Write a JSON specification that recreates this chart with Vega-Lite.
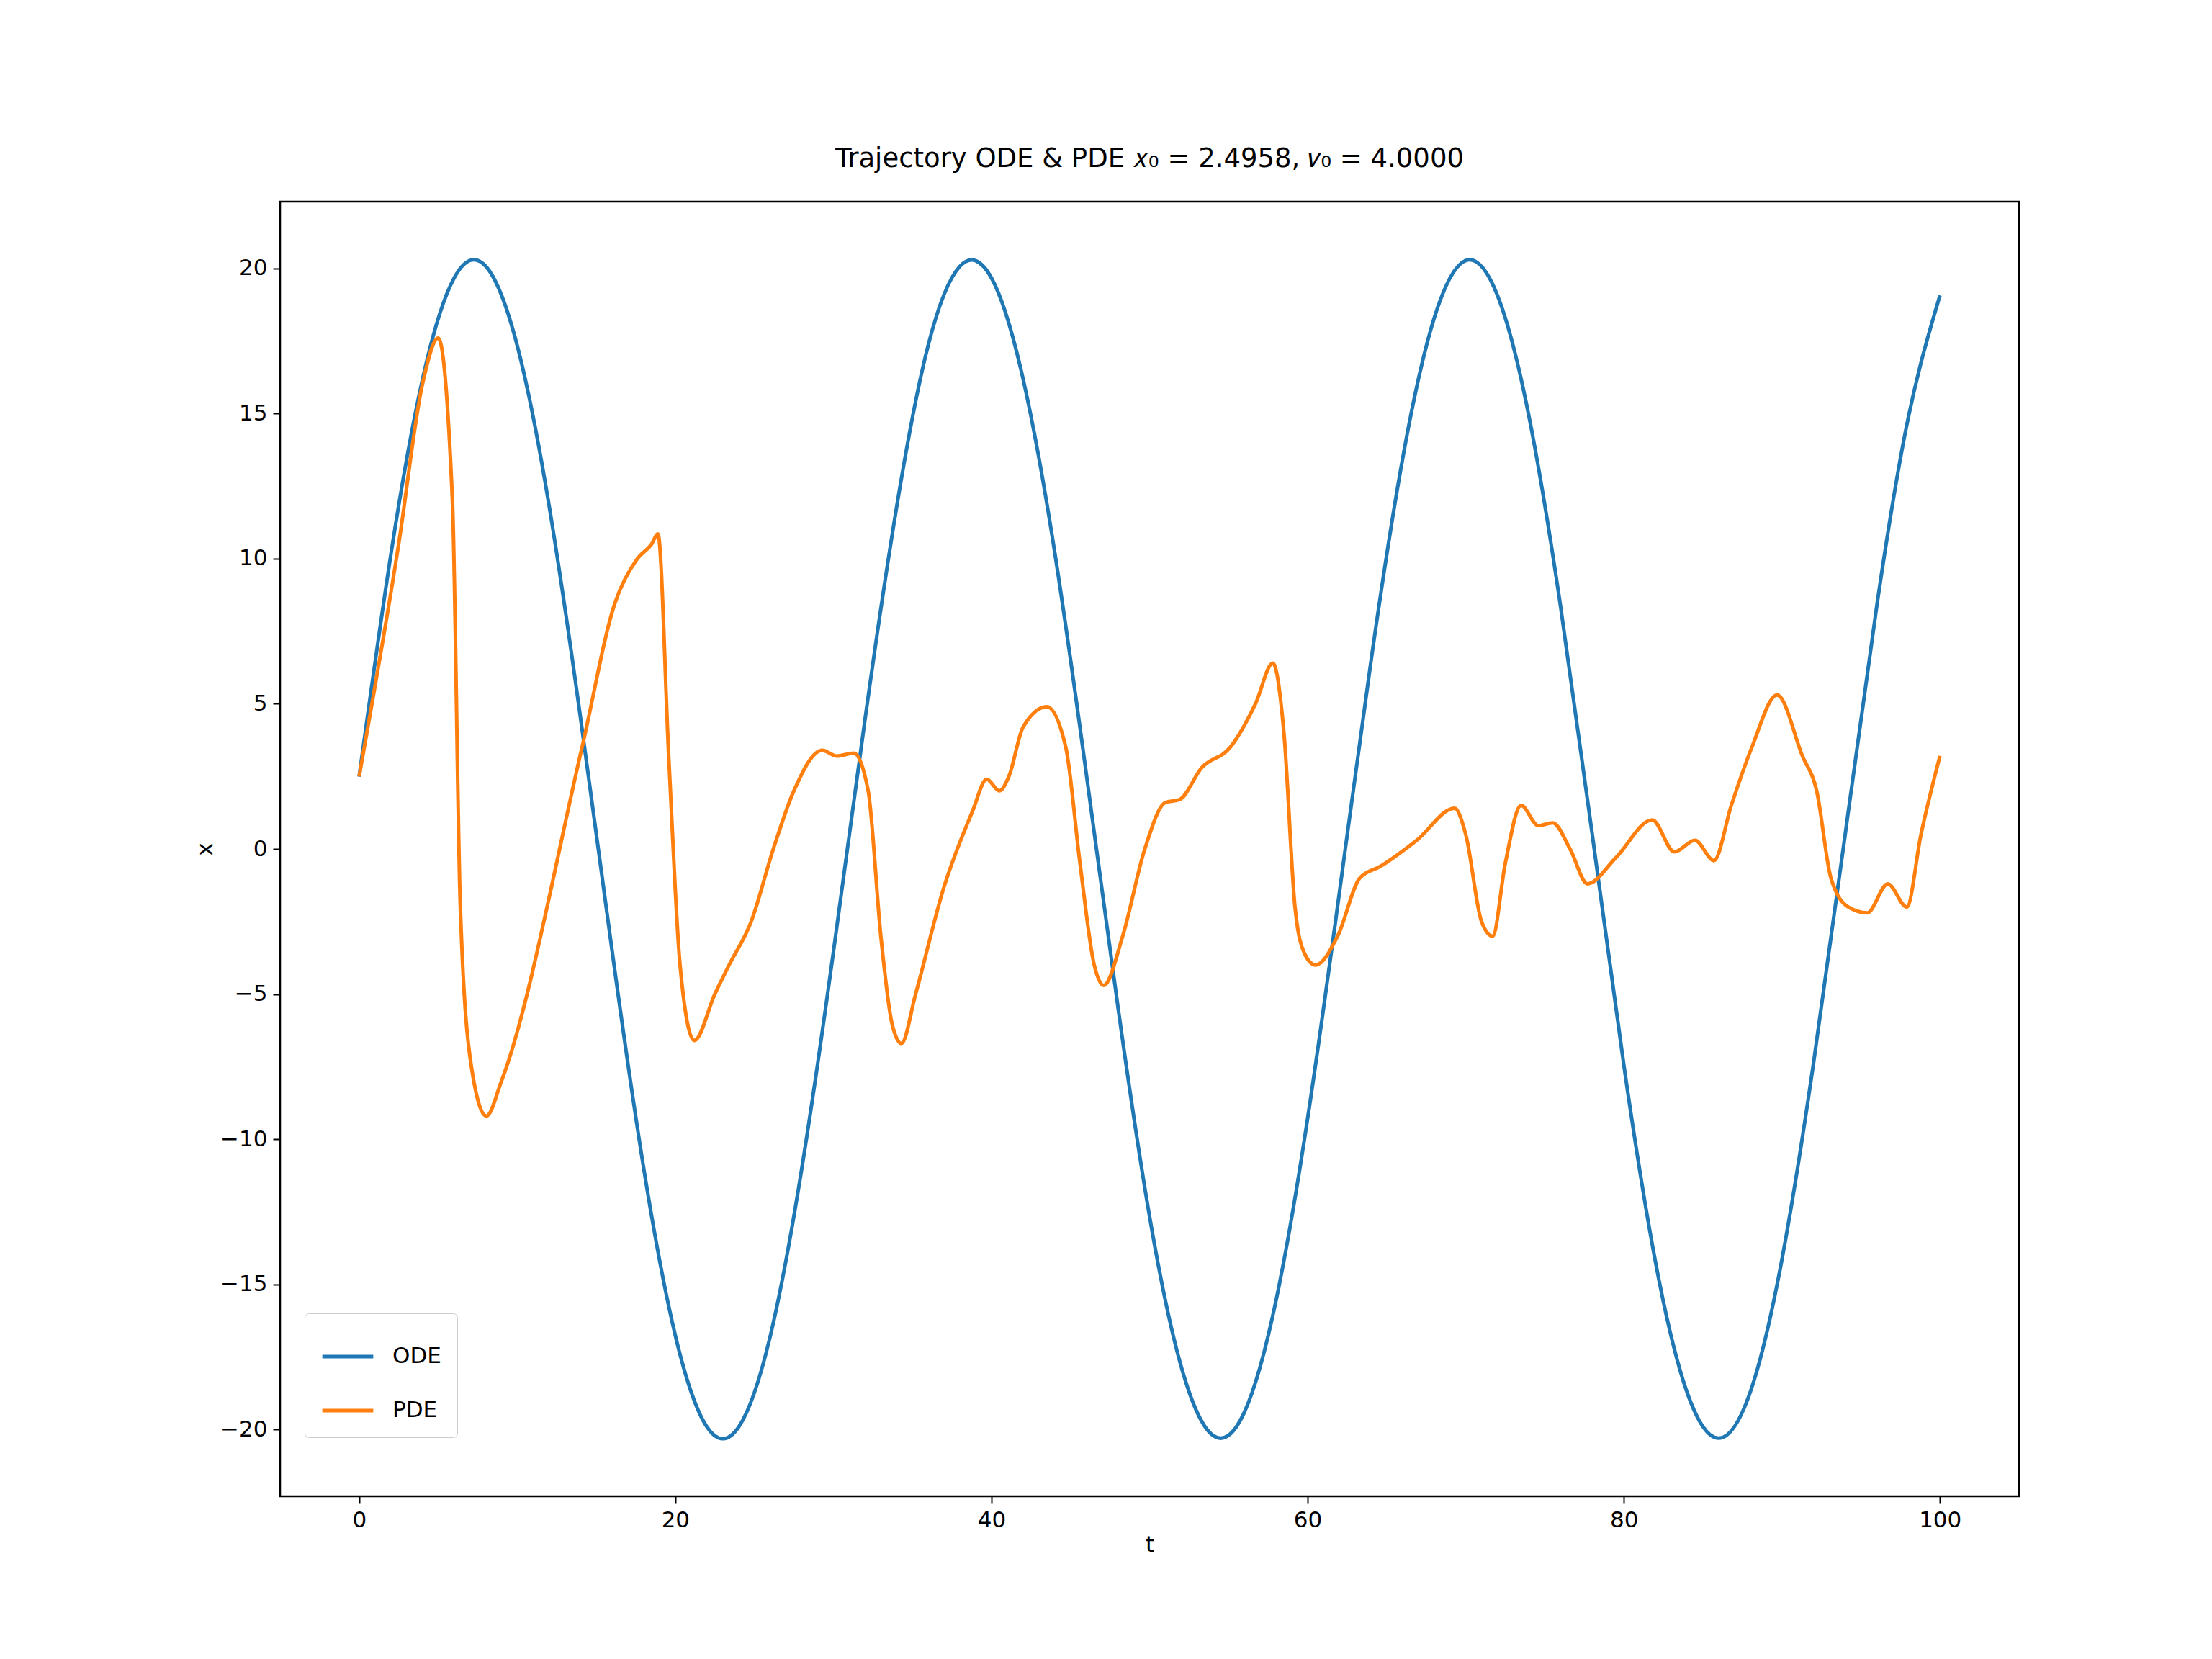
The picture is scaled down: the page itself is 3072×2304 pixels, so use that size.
{
  "$schema": "https://vega.github.io/schema/vega-lite/v6.json",
  "autosize": {"type": "none"},
  "width": 2415,
  "height": 1798,
  "padding": {"left": 389, "top": 280, "right": 268, "bottom": 226},
  "background": "white",
  "config": {
    "font": "DejaVu Sans",
    "view": {"stroke": "black", "strokeWidth": 2.5},
    "axis": {"grid": false, "domain": false, "tickColor": "black", "tickWidth": 2, "tickSize": 10, "labelFontSize": 31, "labelColor": "black", "titleFontSize": 31, "titleFontWeight": "normal", "titleColor": "black", "labelPadding": 8}
  },
  "title": {"text": "Trajectory ODE & PDE 𝑥₀ = 2.4958, 𝑣₀ = 4.0000", "fontSize": 37, "fontWeight": "normal", "offset": 40, "color": "black"},
  "datasets": {
    "ode": [
      {"t": 0, "x": 2.49}, {"t": 2, "x": 10.12}, {"t": 4, "x": 16.16}, {"t": 6, "x": 19.66}, {"t": 8, "x": 20.08},
      {"t": 10, "x": 17.34}, {"t": 12, "x": 11.88}, {"t": 14, "x": 4.53}, {"t": 16, "x": -3.5}, {"t": 18, "x": -11.0},
      {"t": 20, "x": -16.76}, {"t": 22, "x": -19.91}, {"t": 24, "x": -19.92}, {"t": 26, "x": -16.8}, {"t": 28, "x": -11.01},
      {"t": 30, "x": -3.55}, {"t": 32, "x": 4.46}, {"t": 34, "x": 11.78}, {"t": 36, "x": 17.36}, {"t": 38, "x": 20.07},
      {"t": 40, "x": 19.67}, {"t": 42, "x": 16.19}, {"t": 44, "x": 10.22}, {"t": 46, "x": 2.58}, {"t": 48, "x": -5.44},
      {"t": 50, "x": -12.66}, {"t": 52, "x": -17.83}, {"t": 54, "x": -20.2}, {"t": 56, "x": -19.4}, {"t": 58, "x": -15.56},
      {"t": 60, "x": -9.28}, {"t": 62, "x": -1.54}, {"t": 64, "x": 6.44}, {"t": 66, "x": 13.42}, {"t": 68, "x": 18.28},
      {"t": 70, "x": 20.27}, {"t": 72, "x": 19.08}, {"t": 74, "x": 14.9}, {"t": 76, "x": 8.35}, {"t": 78, "x": 0.52},
      {"t": 80, "x": -7.44}, {"t": 82, "x": -14.22}, {"t": 84, "x": -18.72}, {"t": 86, "x": -20.3}, {"t": 88, "x": -18.71},
      {"t": 90, "x": -14.15}, {"t": 92, "x": -7.38}, {"t": 94, "x": 0.48}, {"t": 96, "x": 8.36}, {"t": 98, "x": 14.87},
      {"t": 100, "x": 19.07}
    ],
    "pde": [
      {"t": 0, "x": 2.5}, {"t": 2.5, "x": 10.5}, {"t": 4, "x": 16}, {"t": 5, "x": 17.6}, {"t": 5.9, "x": 12},
      {"t": 6.4, "x": -2}, {"t": 7.1, "x": -7.5}, {"t": 8.05, "x": -9.2}, {"t": 9, "x": -8}, {"t": 14.1, "x": 3.5},
      {"t": 16.2, "x": 8.5}, {"t": 17.6, "x": 10}, {"t": 18.5, "x": 10.5}, {"t": 18.9, "x": 10.85}, {"t": 19.6, "x": 3},
      {"t": 20.3, "x": -4}, {"t": 21.2, "x": -6.6}, {"t": 22.5, "x": -5}, {"t": 23.4, "x": -4}, {"t": 24.8, "x": -2.5},
      {"t": 26.2, "x": 0}, {"t": 27.5, "x": 2}, {"t": 29.3, "x": 3.4}, {"t": 30.2, "x": 3.2}, {"t": 31.3, "x": 3.3},
      {"t": 32.2, "x": 2.0}, {"t": 33, "x": -3}, {"t": 33.7, "x": -6}, {"t": 34.3, "x": -6.7}, {"t": 35.2, "x": -5},
      {"t": 37, "x": -1.3}, {"t": 38.8, "x": 1.3}, {"t": 39.7, "x": 2.4}, {"t": 40.5, "x": 2.0}, {"t": 41.1, "x": 2.5},
      {"t": 42, "x": 4.2}, {"t": 43.5, "x": 4.9}, {"t": 44.7, "x": 3.5}, {"t": 45.6, "x": -0.5}, {"t": 46.5, "x": -4},
      {"t": 47.1, "x": -4.7}, {"t": 48.3, "x": -3}, {"t": 49.7, "x": 0}, {"t": 51, "x": 1.6}, {"t": 51.9, "x": 1.7},
      {"t": 53.3, "x": 2.8}, {"t": 55.1, "x": 3.5}, {"t": 56.7, "x": 5}, {"t": 57.8, "x": 6.4}, {"t": 58.5, "x": 4},
      {"t": 59.2, "x": -2}, {"t": 59.8, "x": -3.6}, {"t": 60.5, "x": -4}, {"t": 61.9, "x": -3}, {"t": 63.3, "x": -1},
      {"t": 64.6, "x": -0.6}, {"t": 66.9, "x": 0.3}, {"t": 69.3, "x": 1.4}, {"t": 70, "x": 0.5}, {"t": 71, "x": -2.5},
      {"t": 71.7, "x": -3}, {"t": 72.5, "x": -0.5}, {"t": 73.5, "x": 1.5}, {"t": 74.6, "x": 0.8}, {"t": 75.5, "x": 0.9},
      {"t": 76.6, "x": 0}, {"t": 77.7, "x": -1.2}, {"t": 79.5, "x": -0.3}, {"t": 81.8, "x": 1.0}, {"t": 83.2, "x": -0.1},
      {"t": 84.5, "x": 0.3}, {"t": 85.7, "x": -0.4}, {"t": 86.8, "x": 1.5}, {"t": 88.1, "x": 3.5}, {"t": 89.7, "x": 5.3},
      {"t": 91.3, "x": 3.2}, {"t": 92.2, "x": 2.0}, {"t": 93.1, "x": -1}, {"t": 94.2, "x": -2}, {"t": 95.4, "x": -2.2},
      {"t": 96.7, "x": -1.2}, {"t": 97.9, "x": -2.0}, {"t": 98.8, "x": 0.5}, {"t": 100, "x": 3.2}
    ]
  },
  "layer": [
    {
      "data": {"name": "ode"},
      "transform": [{"calculate": "'ODE'", "as": "series"}],
      "mark": {"type": "line", "strokeWidth": 5, "interpolate": "natural"},
      "encoding": {
        "x": {"field": "t", "type": "quantitative", "title": "t", "scale": {"domain": [-5, 105], "nice": false}, "axis": {"values": [0, 20, 40, 60, 80, 100]}},
        "y": {"field": "x", "type": "quantitative", "title": "x", "scale": {"domain": [-22.3, 22.3], "nice": false}, "axis": {"values": [-20, -15, -10, -5, 0, 5, 10, 15, 20], "labelExpr": "replace(datum.label, '-', '−')"}},
        "color": {"field": "series", "type": "nominal", "scale": {"domain": ["ODE", "PDE"], "range": ["#1f77b4", "#ff7f0e"]},
          "legend": {"title": null, "orient": "none", "legendX": 34, "legendY": 1544, "symbolType": "stroke", "symbolSize": 5000, "symbolStrokeWidth": 5, "labelFontSize": 31, "labelColor": "black", "rowPadding": 22, "padding": 22, "strokeColor": "#cccccc", "fillColor": "white", "cornerRadius": 6, "labelOffset": 24}}
      }
    },
    {
      "data": {"name": "pde"},
      "transform": [{"calculate": "'PDE'", "as": "series"}],
      "mark": {"type": "line", "strokeWidth": 5, "interpolate": "monotone"},
      "encoding": {
        "x": {"field": "t", "type": "quantitative"},
        "y": {"field": "x", "type": "quantitative"},
        "color": {"field": "series", "type": "nominal"}
      }
    }
  ]
}
